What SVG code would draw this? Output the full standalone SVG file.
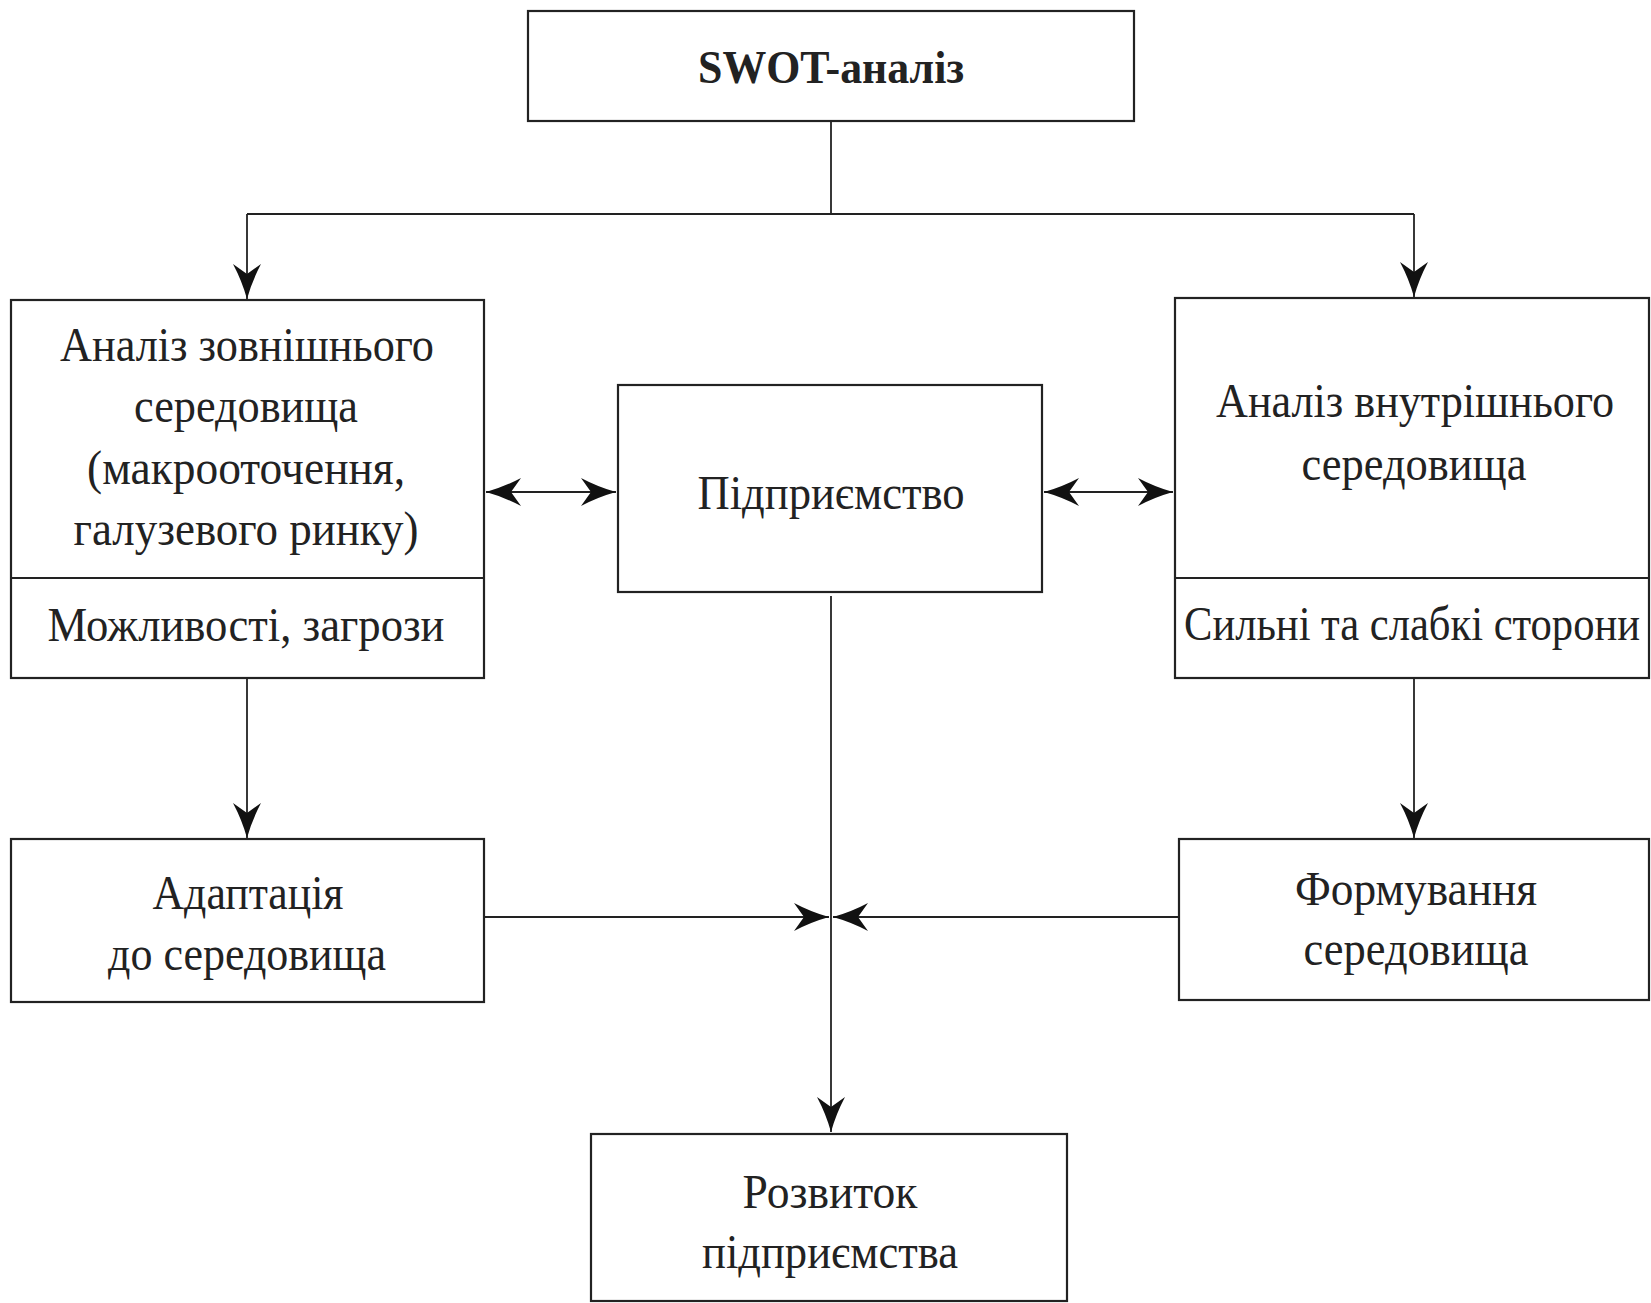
<svg xmlns="http://www.w3.org/2000/svg" width="1651" height="1303" viewBox="0 0 1651 1303">
<style>
.box{fill:#fff;stroke:#222;stroke-width:2.2}
.div{stroke:#222;stroke-width:2.2;fill:none}
.ln{stroke:#222;stroke-width:1.8;fill:none}
text{font-family:"Liberation Serif","DejaVu Serif",serif;font-size:49px;fill:#222;text-anchor:middle}
.b{font-weight:bold;font-size:46px}
</style>
<defs>
<marker id="ah" viewBox="-38 -16 40 32" markerWidth="40" markerHeight="32" refX="0" refY="0" orient="auto-start-reverse" markerUnits="userSpaceOnUse">
<path d="M0,0 Q-18,-5 -35,-14 L-25,0 L-35,14 Q-18,5 0,0 Z" fill="#111"/>
</marker>
</defs>
<g id="connectors">
<path class="ln" d="M831,121 V214"/>
<path class="ln" d="M247,214 H1414"/>
<path class="ln" d="M247,214 V299" marker-end="url(#ah)"/>
<path class="ln" d="M1414,214 V297" marker-end="url(#ah)"/>
<path class="ln" d="M486,492 H616" marker-start="url(#ah)" marker-end="url(#ah)"/>
<path class="ln" d="M1044,492 H1173" marker-start="url(#ah)" marker-end="url(#ah)"/>
<path class="ln" d="M247,678 V838" marker-end="url(#ah)"/>
<path class="ln" d="M1414,678 V838" marker-end="url(#ah)"/>
<path class="ln" d="M831,596 V1132" marker-end="url(#ah)"/>
<path class="ln" d="M484,917 H829" marker-end="url(#ah)"/>
<path class="ln" d="M1179,917 H833" marker-end="url(#ah)"/>
</g>
<g id="swot">
<rect class="box" x="528" y="11" width="606" height="110"/>
<text class="b" x="831" y="83" textLength="266" lengthAdjust="spacingAndGlyphs">SWOT-аналіз</text>
</g>
<g id="external">
<rect class="box" x="11" y="300" width="473" height="378"/>
<path class="div" d="M11,578 H484"/>
<text x="247" y="361" textLength="374" lengthAdjust="spacingAndGlyphs">Аналіз зовнішнього</text>
<text x="246" y="422" textLength="224" lengthAdjust="spacingAndGlyphs">середовища</text>
<text x="246" y="484" textLength="318" lengthAdjust="spacingAndGlyphs">(макрооточення,</text>
<text x="246" y="545" textLength="345" lengthAdjust="spacingAndGlyphs">галузевого ринку)</text>
<text x="246" y="641" textLength="397" lengthAdjust="spacingAndGlyphs">Можливості, загрози</text>
</g>
<g id="enterprise">
<rect class="box" x="618" y="385" width="424" height="207"/>
<text x="831" y="509" textLength="267" lengthAdjust="spacingAndGlyphs">Підприємство</text>
</g>
<g id="internal">
<rect class="box" x="1175" y="298" width="474" height="380"/>
<path class="div" d="M1175,578 H1649"/>
<text x="1415" y="417" textLength="398" lengthAdjust="spacingAndGlyphs">Аналіз внутрішнього</text>
<text x="1414" y="480" textLength="225" lengthAdjust="spacingAndGlyphs">середовища</text>
<text x="1412" y="640" textLength="456" lengthAdjust="spacingAndGlyphs">Сильні та слабкі сторони</text>
</g>
<g id="adaptation">
<rect class="box" x="11" y="839" width="473" height="163"/>
<text x="248" y="909" textLength="191" lengthAdjust="spacingAndGlyphs">Адаптація</text>
<text x="247" y="970" textLength="278" lengthAdjust="spacingAndGlyphs">до середовища</text>
</g>
<g id="forming">
<rect class="box" x="1179" y="839" width="470" height="161"/>
<text x="1416" y="905" textLength="242" lengthAdjust="spacingAndGlyphs">Формування</text>
<text x="1416" y="965" textLength="225" lengthAdjust="spacingAndGlyphs">середовища</text>
</g>
<g id="development">
<rect class="box" x="591" y="1134" width="476" height="167"/>
<text x="830" y="1208" textLength="175" lengthAdjust="spacingAndGlyphs">Розвиток</text>
<text x="830" y="1268" textLength="256" lengthAdjust="spacingAndGlyphs">підприємства</text>
</g>
</svg>
